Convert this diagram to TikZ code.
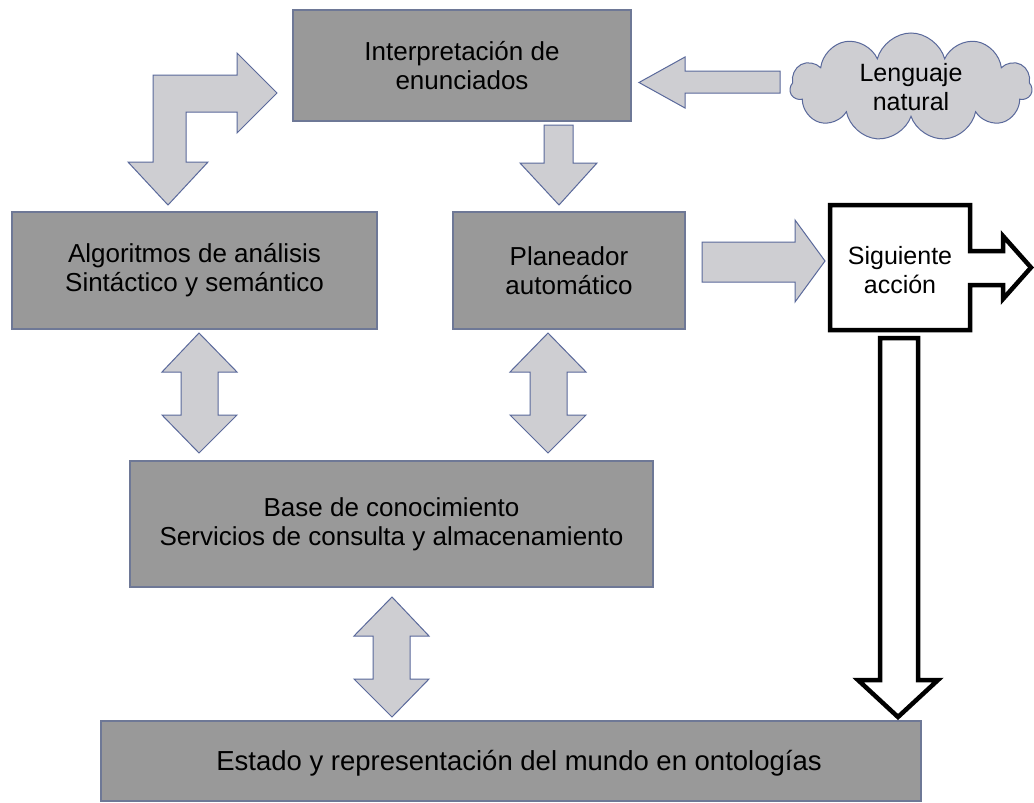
\documentclass[tikz,border=0pt]{standalone}
\usepackage{fontspec}
\setmainfont{Liberation Sans}
\usetikzlibrary{shapes.symbols}
\definecolor{boxgray}{RGB}{153,153,153}
\definecolor{boxedge}{RGB}{110,120,150}
\definecolor{arrowfill}{RGB}{206,206,210}
\definecolor{arrowedge}{RGB}{90,105,155}
\tikzset{
  box/.style={draw=boxedge, line width=1.2pt, fill=boxgray, align=center, inner sep=0pt,
    font=\fontsize{26}{29}\selectfont},
  blockarrow/.style={draw=arrowedge, line width=1pt, fill=arrowfill, line join=miter},
  blackarrow/.style={draw=black, line width=4.5pt, fill=white, line join=miter},
  labeltext/.style={align=center, inner sep=0pt, font=\fontsize{25}{29}\selectfont},
}
\begin{document}
\begin{tikzpicture}[x=1pt,y=-1pt]
\useasboundingbox (0,0) rectangle (1034,803);
\fill[white] (0,0) rectangle (1034,803);

% boxes
\node[box, minimum width=338pt, minimum height=111pt] (interp) at (462,65.5) {Interpretación de\\enunciados};
\node[box, minimum width=365pt, minimum height=117pt] (algo) at (194.5,270.5) {Algoritmos de análisis\\Sintáctico y semántico};
\node[box, minimum width=232pt, minimum height=117pt] (plan) at (569,270.5) {Planeador\\automático};
\node[box, minimum width=523pt, minimum height=126pt] (base) at (391.5,524) {Base de conocimiento\\Servicios de consulta y almacenamiento};
\node[box, minimum width=820pt, minimum height=80pt] (estado) at (511,761) {};
\node[labeltext, font=\fontsize{27.5}{30}\selectfont] (estadotxt) at (519,763) {Estado y representación del mundo en ontologías};

% cloud
\node[cloud, cloud puffs=11, cloud ignores aspect, draw=arrowedge, line width=1pt, fill=arrowfill,
  minimum width=242pt, minimum height=108pt, align=center, inner sep=0pt,
  font=\fontsize{25}{29}\selectfont] (lang) at (911,87) {Lenguaje\\natural};

% bent arrow (algoritmos <-> interpretacion)
\draw[blockarrow] (153,162) -- (153,75) -- (237,75) -- (237,53) -- (277,93) -- (237,133)
  -- (237,112) -- (186,112) -- (186,162) -- (208,162) -- (168,205) -- (128,162) -- cycle;

% interp -> plan
\draw[blockarrow] (544,125) -- (573,125) -- (573,163) -- (597,163) -- (559,205) -- (520,163) -- (544,163) -- cycle;

% lenguaje -> interp
\draw[blockarrow] (780,71) -- (780,93) -- (685,93) -- (685,108) -- (639,82.5) -- (685,57) -- (685,71) -- cycle;

% plan -> siguiente
\draw[blockarrow] (702,242) -- (795,242) -- (795,220) -- (825,261) -- (795,302) -- (795,282) -- (702,282) -- cycle;

% double arrows
\draw[blockarrow] (199,333) -- (237,372) -- (218,372) -- (218,415) -- (237,415) -- (199,453)
  -- (162,415) -- (181,415) -- (181,372) -- (162,372) -- cycle;
\draw[blockarrow] (548,333) -- (586,372) -- (567,372) -- (567,415) -- (586,415) -- (548,453)
  -- (510,415) -- (530,415) -- (530,372) -- (510,372) -- cycle;
\draw[blockarrow] (392,597) -- (429,636) -- (410,636) -- (410,679) -- (429,679) -- (392,717)
  -- (354,679) -- (373,679) -- (373,636) -- (354,636) -- cycle;

% siguiente accion (box with outgoing arrow)
\draw[blackarrow] (830,205) -- (970,205) -- (970,251) -- (1003,251) -- (1003,236) -- (1031,267.5)
  -- (1003,299) -- (1003,285) -- (970,285) -- (970,330) -- (830,330) -- cycle;
\node[labeltext] (sig) at (900,270) {Siguiente\\acción};

% siguiente -> estado
\draw[blackarrow] (880,338) -- (918,338) -- (918,680) -- (938,680) -- (898,717) -- (858,680) -- (880,680) -- cycle;
\end{tikzpicture}
\end{document}
